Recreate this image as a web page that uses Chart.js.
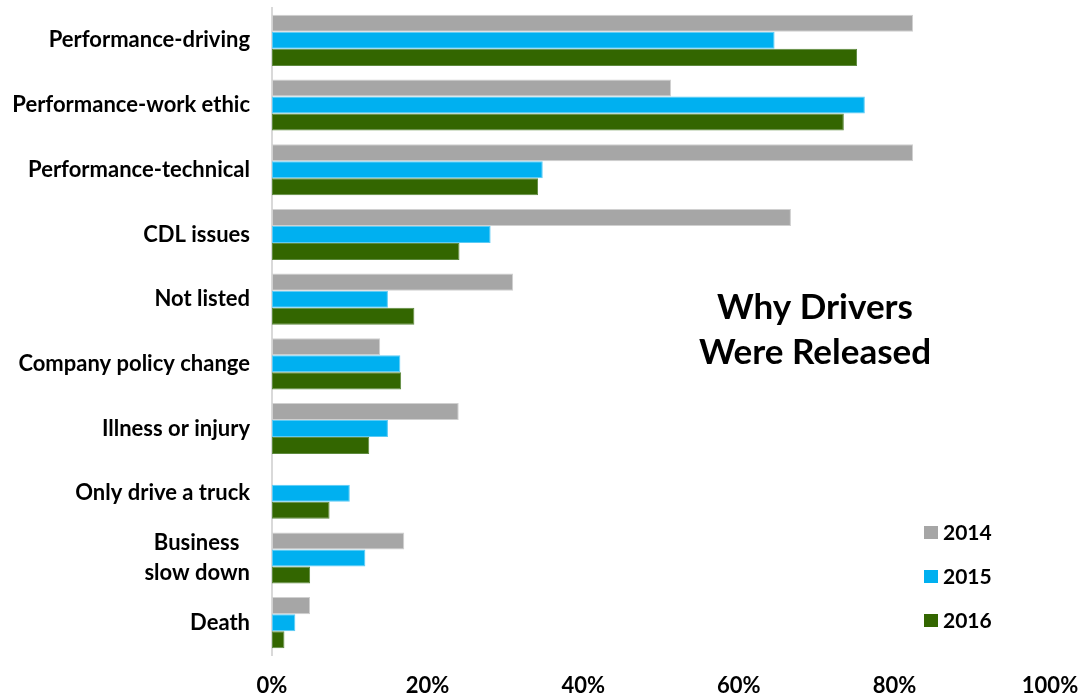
<!DOCTYPE html>
<html>
<head>
<meta charset="utf-8">
<script src="https://cdn.jsdelivr.net/npm/chart.js@4.4.1/dist/chart.umd.min.js"></script>
<style>
  html, body { margin: 0; padding: 0; background: #fff; }
  #wrap { width: 1082px; height: 696px; }
</style>
</head>
<body>
<div id="wrap"><canvas id="c" width="1082" height="696"></canvas></div>
<script>
const categories = [
  "Performance-driving",
  "Performance-work ethic",
  "Performance-technical",
  "CDL issues",
  "Not listed",
  "Company policy change",
  "Illness or injury",
  "Only drive a truck",
  ["Business  ", "slow down"],
  "Death"
];
const seriesNames = ["2014", "2015", "2016"];
const values2014 = [82.4, 51.3, 82.4, 66.7, 31.0, 13.9, 24.0, 0, 17.0, 4.9];
const values2015 = [64.6, 76.2, 34.8, 28.1, 14.9, 16.5, 14.9, 10.0, 12.0, 3.0];
const values2016 = [75.2, 73.5, 34.2, 24.1, 18.3, 16.6, 12.5, 7.4, 4.9, 1.6];
const xTicks = [0, 20, 40, 60, 80, 100];
const titleLines = ["Why Drivers", "Were Released"];

const FONT = "Lato, 'Open Sans', sans-serif";
const fills = ["#A6A6A6", "#00B0F0", "#336600"];
const borders = ["#D0D0D0", "#5CCBF5", "#5E8A3E"];

const overlayPlugin = {
  id: 'overlay',
  afterDraw(chart) {
    const ctx = chart.ctx;
    ctx.save();
    ctx.fillStyle = "#000";
    ctx.font = "bold 35px " + FONT;
    ctx.textAlign = "center";
    ctx.textBaseline = "middle";
    ctx.fillText(titleLines[0], 815, 308);
    ctx.fillText(titleLines[1], 815, 353);
    ctx.font = "bold 21px " + FONT;
    ctx.textAlign = "left";
    chart.data.datasets.forEach((ds, i) => {
      const y = 532 + i * 44;
      ctx.fillStyle = ds.backgroundColor;
      ctx.fillRect(924, y - 6, 14, 13);
      ctx.fillStyle = "#000";
      ctx.fillText(ds.label, 943, y + 1);
    });
    ctx.restore();
  }
};

new Chart(document.getElementById('c'), {
  type: 'bar',
  data: {
    labels: categories,
    datasets: [values2014, values2015, values2016].map((v, i) => ({
      label: seriesNames[i],
      data: v,
      backgroundColor: fills[i],
      borderColor: borders[i],
      borderWidth: 1,
      borderSkipped: false,
      categoryPercentage: 0.79,
      barPercentage: 1.0
    }))
  },
  options: {
    indexAxis: 'y',
    responsive: false,
    animation: false,
    devicePixelRatio: 1,
    layout: { padding: { top: 8, right: 32, bottom: 0, left: 0 } },
    plugins: {
      legend: { display: false },
      tooltip: { enabled: false }
    },
    scales: {
      x: {
        min: 0, max: 100,
        afterBuildTicks(scale) { scale.ticks = xTicks.map(v => ({ value: v })); },
        afterFit(scale) { scale.height = 41; scale.paddingLeft = 0; scale.paddingRight = 0; },
        grid: { display: false, drawTicks: false },
        border: { display: false },
        ticks: {
          padding: 18,
          maxRotation: 0,
          color: "#000",
          font: { family: FONT, size: 22, weight: 'bold' },
          callback: v => v + "%"
        }
      },
      y: {
        afterFit(scale) { scale.width = 272; scale.paddingTop = 0; scale.paddingBottom = 0; },
        grid: { display: false, drawTicks: false },
        border: { display: true, color: "#D9D9D9", width: 2 },
        ticks: {
          autoSkip: false,
          padding: 22,
          color: "#000",
          font: { family: FONT, size: 22, weight: 'bold', lineHeight: 1.4 }
        }
      }
    }
  },
  plugins: [overlayPlugin]
});
</script>
</body>
</html>
